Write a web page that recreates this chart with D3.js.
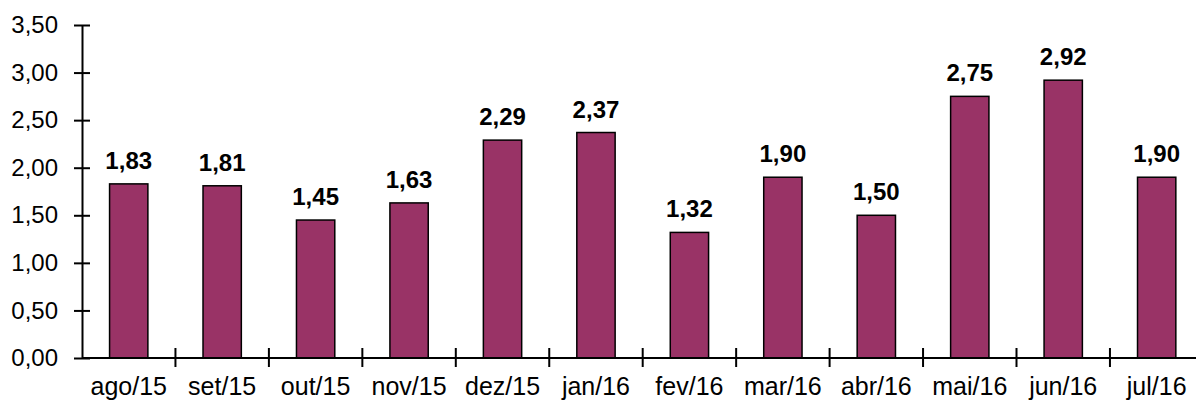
<!DOCTYPE html>
<html>
<head>
<meta charset="utf-8">
<script src="https://cdn.jsdelivr.net/npm/d3@7"></script>
<style>
  body { margin: 0; background: #fff; }
  text { font-family: Arial, "Liberation Sans", sans-serif; fill: #000; }
</style>
</head>
<body>
<svg></svg>
<script>
var width = 1196;
var height = 404;

var months = ["ago/15", "set/15", "out/15", "nov/15", "dez/15", "jan/16",
              "fev/16", "mar/16", "abr/16", "mai/16", "jun/16", "jul/16"];
var values = [1.83, 1.81, 1.45, 1.63, 2.29, 2.37, 1.32, 1.90, 1.50, 2.75, 2.92, 1.90];
var yTicks = [0, 0.5, 1, 1.5, 2, 2.5, 3, 3.5];

var plotLeft = 82;
var plotBottom = 358;
var plotTop = 25;
var step = 93.45;

var fmt = d => d.toFixed(2).replace(".", ",");

// prettier-ignore
var svg = d3.select("svg")
              .attr("width", width)
              .attr("height", height);

// prettier-ignore
var xScale = d3.scaleBand()
               .domain(months)
               .range([plotLeft, plotLeft + step * months.length])
               .paddingInner(0.59)
               .paddingOuter(0.295);

// prettier-ignore
var yScale = d3.scaleLinear()
               .domain([0, 3.5])
               .range([plotBottom, plotTop]);

// bars
// prettier-ignore
svg.selectAll("rect")
   .data(values)
   .enter()
   .append("rect")
     .attr("x", (d, i) => xScale(months[i]))
     .attr("y", d => yScale(d))
     .attr("width", xScale.bandwidth())
     .attr("height", d => plotBottom - yScale(d))
     .attr("fill", "#993366")
     .attr("stroke", "#000")
     .attr("stroke-width", 1.5);

// value labels
// prettier-ignore
svg.selectAll(".val")
   .data(values)
   .enter()
   .append("text")
     .classed("val", true)
     .attr("x", (d, i) => xScale(months[i]) + xScale.bandwidth() / 2)
     .attr("y", d => yScale(d) - 15)
     .attr("text-anchor", "middle")
     .attr("font-size", 24)
     .attr("font-weight", "bold")
     .text(fmt);

// y axis
// prettier-ignore
var yAxis = svg.append("g")
   .attr("transform", "translate(" + plotLeft + ",0)")
   .call(d3.axisLeft(yScale)
           .tickValues(yTicks)
           .tickFormat(fmt)
           .tickSizeInner(8)
           .tickSizeOuter(0)
           .tickPadding(16));

yAxis.select(".domain").attr("stroke", "#000").attr("stroke-width", 2);
// prettier-ignore
yAxis.selectAll(".tick line")
       .attr("x2", -8)
       .attr("x1", 8)
       .attr("stroke", "#000")
       .attr("stroke-width", 2);
// prettier-ignore
yAxis.selectAll(".tick text")
       .attr("font-size", 24)
       .attr("fill", "#000")
       .attr("font-family", "Arial, 'Liberation Sans', sans-serif");

// x axis line
// prettier-ignore
svg.append("line")
   .attr("x1", plotLeft)
   .attr("x2", width)
   .attr("y1", plotBottom)
   .attr("y2", plotBottom)
   .attr("stroke", "#000")
   .attr("stroke-width", 2);

// category boundary ticks
// prettier-ignore
svg.selectAll(".xtick")
   .data(months.slice(1))
   .enter()
   .append("line")
     .attr("x1", d => xScale(d) - xScale.step() * 0.295)
     .attr("x2", d => xScale(d) - xScale.step() * 0.295)
     .attr("y1", plotBottom - 10)
     .attr("y2", plotBottom + 9)
     .attr("stroke", "#000")
     .attr("stroke-width", 2);

// category labels
// prettier-ignore
svg.selectAll(".xlab")
   .data(months)
   .enter()
   .append("text")
     .classed("xlab", true)
     .attr("x", d => xScale(d) + xScale.bandwidth() / 2)
     .attr("y", 395)
     .attr("text-anchor", "middle")
     .attr("font-size", 25)
     .text(d => d);
</script>
</body>
</html>
